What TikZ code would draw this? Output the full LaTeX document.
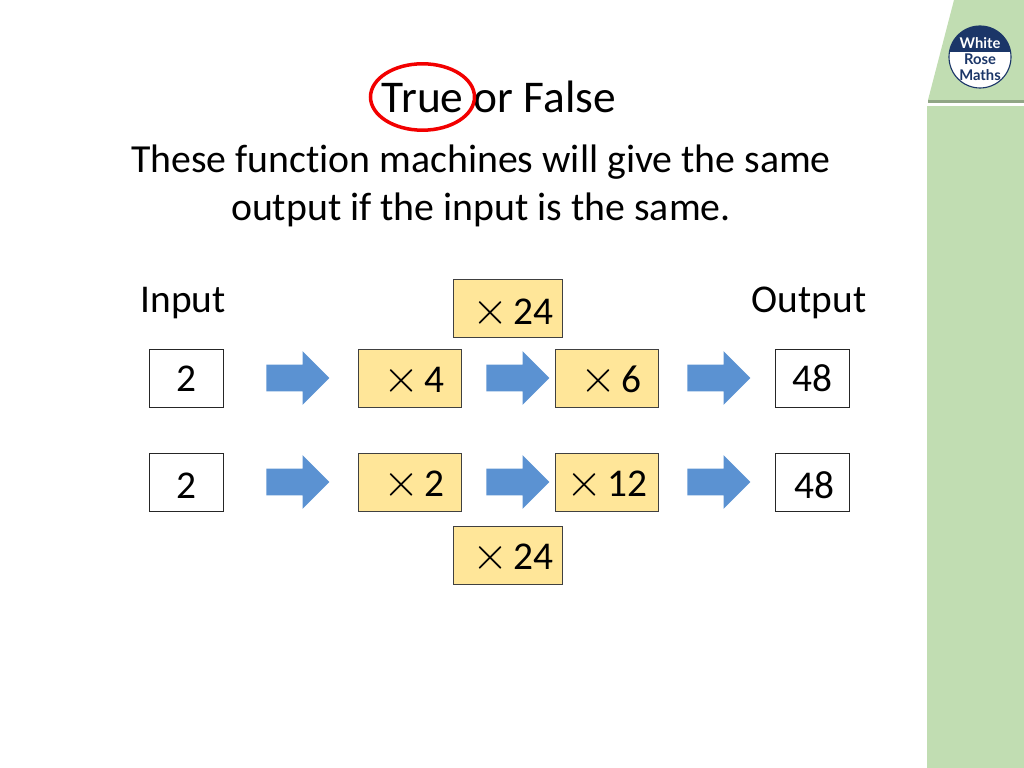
\documentclass[tikz,border=0pt]{standalone}
\usepackage{fix-cm}
\usepackage{fontspec}
\setmainfont[Ligatures=NoCommon]{Carlito}
\newfontfamily\logofont{Lato}
\usetikzlibrary{shapes.arrows}
\definecolor{machinefill}{HTML}{FFE699}
\definecolor{arrowblue}{HTML}{5B92D2}
\definecolor{bandgreen}{HTML}{C1DDB2}
\definecolor{logonavy}{HTML}{1B3668}
\tikzset{
  valuebox/.style={draw=black!85, line width=0.5pt, fill=white, minimum width=1.85cm, minimum height=1.45cm, inner sep=0pt},
  machinebox/.style={draw=black!75, line width=0.5pt, fill=machinefill, minimum width=2.575cm, minimum height=1.45cm, inner sep=0pt},
  productbox/.style={machinebox, minimum width=2.725cm},
  flowarrow/.style={single arrow, fill=arrowblue, minimum height=1.575cm, single arrow head extend=0.3375cm, inner xsep=0pt, inner ysep=0.325cm},
  boxtext/.style={anchor=base, font=\fontsize{28}{34}\selectfont, inner sep=0pt},
  logotext/.style={font=\logofont\bfseries\fontsize{10.5}{12}\selectfont, inner sep=0pt}
}
\newcommand{\timessign}{{\fontsize{33}{33}\selectfont$\times$}\hspace{0.12cm}}
\begin{document}
\begin{tikzpicture}
\useasboundingbox (0,0) rectangle (25.6,19.2);

% Green band and logo
\fill[bandgreen] (23.85,19.2) -- (25.6,19.2) -- (25.6,16.7) -- (23.2,16.7) -- cycle;
\fill[bandgreen!75!black] (23.2,16.7) rectangle (25.6,16.63);
\fill[bandgreen] (23.175,0) rectangle (25.6,16.55);
\fill[white] (24.5,17.775) circle (0.775);
\begin{scope}
\clip (24.5,17.775) circle (0.775);
\fill[logonavy] (23.7,17.9) rectangle (25.3,18.6);
\end{scope}
\draw[logonavy, line width=0.8pt] (24.5,17.775) circle (0.775);
\node[logotext, text=white] (logowhite) at (24.5,18.13) {White};
\node[logotext, text=logonavy] (logorose) at (24.5,17.72) {Rose};
\node[logotext, text=logonavy] (logomaths) at (24.5,17.33) {Maths};

% Title and question
\node[anchor=base, font=\fontsize{32.3}{38}\selectfont, inner sep=0pt] (title) at (12.475,16.375) {True or False};
\draw[red!95!black, line width=2.5pt] (10.5625,16.775) ellipse (1.3 and 0.83);
\node[align=center, font=\fontsize{28.3}{33.8}\selectfont, inner sep=0pt] (question) at (12.025,14.55) {These function machines will give the same\\output if the input is the same.};

% Headings
\node[boxtext] (input) at (4.575,11.375) {Input};
\node[boxtext] (output) at (20.225,11.375) {Output};

% First row
\node[valuebox] (inA) at (4.665,9.73) {};
\node[boxtext] (inAtext) at (4.65,9.4) {2};
\node[flowarrow] (arrowAa) at (7.28,9.75) {};
\node[machinebox] (timesfour) at (10.2525,9.73) {};
\node[boxtext] (timesfourtext) at (10.35,9.375) {\timessign 4};
\node[flowarrow] (arrowAb) at (12.78,9.75) {};
\node[machinebox] (timessix) at (15.1775,9.73) {};
\node[boxtext] (timessixtext) at (15.275,9.375) {\timessign 6};
\node[flowarrow] (arrowAc) at (17.805,9.75) {};
\node[valuebox] (outA) at (20.315,9.73) {};
\node[boxtext] (outAtext) at (20.3,9.4) {48};

% Second row
\node[valuebox] (inB) at (4.665,7.13) {};
\node[boxtext] (inBtext) at (4.65,6.725) {2};
\node[flowarrow] (arrowBa) at (7.28,7.15) {};
\node[machinebox] (timestwo) at (10.2525,7.13) {};
\node[boxtext] (timestwotext) at (10.35,6.775) {\timessign 2};
\node[flowarrow] (arrowBb) at (12.78,7.15) {};
\node[machinebox] (timestwelve) at (15.1775,7.13) {};
\node[boxtext] (timestwelvetext) at (15.1675,6.775) {\timessign 12};
\node[flowarrow] (arrowBc) at (17.805,7.15) {};
\node[valuebox] (outB) at (20.315,7.13) {};
\node[boxtext] (outBtext) at (20.35,6.725) {48};

% Combined machines
\node[productbox] (productA) at (12.7025,11.48) {};
\node[boxtext] (productAtext) at (12.825,11.075) {\timessign 24};
\node[productbox] (productB) at (12.7025,5.305) {};
\node[boxtext] (productBtext) at (12.825,4.95) {\timessign 24};
\end{tikzpicture}
\end{document}
